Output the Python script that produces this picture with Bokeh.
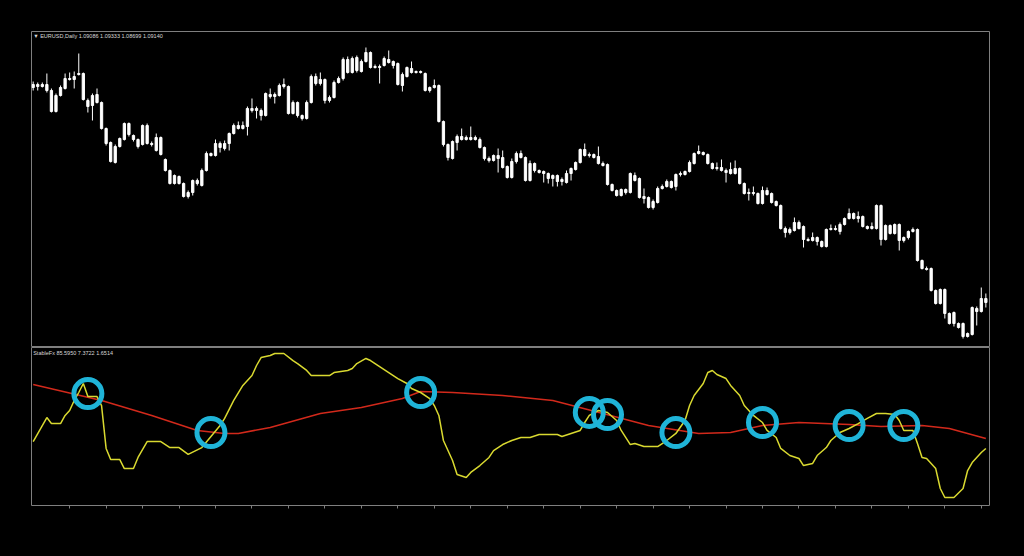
from bokeh.plotting import figure
from bokeh.layouts import column
from bokeh.models import Range1d, LinearAxis, FixedTicker, Label
from bokeh.embed import file_html
from bokeh.resources import INLINE

# ---------------- data ----------------
open_ = [
1.304,1.307,1.305,1.307,1.301,1.280,1.296,1.303,1.312,1.312,
1.317,1.318,1.291,1.286,1.297,1.289,1.263,1.249,1.229,1.245,
1.252,1.268,1.256,1.252,1.247,1.266,1.248,1.241,1.254,1.232,
1.221,1.208,1.215,1.208,1.195,1.199,1.211,1.206,1.221,1.236,
1.236,1.248,1.248,1.248,1.258,1.266,1.263,1.265,1.283,1.281,
1.281,1.276,1.297,1.295,1.296,1.305,1.305,1.278,1.289,1.276,
1.273,1.289,1.315,1.308,1.312,1.291,1.294,1.309,1.313,1.332,
1.319,1.334,1.320,1.330,1.339,1.324,1.325,1.326,1.332,1.330,
1.328,1.306,1.315,1.323,1.320,1.319,1.318,1.301,1.304,1.306,
1.270,1.247,1.233,1.249,1.255,1.252,1.254,1.252,1.252,1.244,
1.233,1.231,1.236,1.234,1.225,1.214,1.230,1.238,1.234,1.211,
1.228,1.221,1.220,1.218,1.213,1.216,1.210,1.209,1.218,1.222,
1.229,1.242,1.236,1.237,1.235,1.228,1.227,1.207,1.201,1.196,
1.202,1.199,1.216,1.213,1.195,1.194,1.184,1.189,1.203,1.205,
1.210,1.205,1.217,1.217,1.220,1.228,1.238,1.239,1.237,1.228,
1.223,1.224,1.221,1.222,1.218,1.223,1.208,1.198,1.199,1.198,
1.188,1.201,1.198,1.190,1.186,1.163,1.159,1.161,1.169,1.165,
1.152,1.151,1.154,1.150,1.145,1.162,1.163,1.160,1.167,1.173,
1.178,1.173,1.175,1.165,1.163,1.163,1.186,1.152,1.166,1.158,
1.167,1.151,1.154,1.160,1.162,1.131,1.123,1.123,1.101,1.088,
1.102,1.078,1.068,1.068,1.068,1.055,1.057,1.083,1.080,1.089]

close = [
1.307,1.305,1.307,1.301,1.280,1.296,1.304,1.313,1.313,1.315,
1.318,1.292,1.285,1.296,1.289,1.263,1.248,1.230,1.245,1.253,
1.268,1.257,1.252,1.245,1.266,1.248,1.247,1.254,1.237,1.221,
1.208,1.216,1.208,1.195,1.199,1.211,1.208,1.221,1.238,1.238,
1.248,1.244,1.243,1.258,1.266,1.263,1.266,1.283,1.281,1.283,
1.276,1.298,1.295,1.297,1.306,1.307,1.278,1.289,1.276,1.273,
1.289,1.315,1.308,1.312,1.291,1.294,1.309,1.313,1.332,1.319,
1.333,1.321,1.330,1.339,1.324,1.325,1.324,1.333,1.329,1.326,
1.307,1.317,1.324,1.319,1.319,1.320,1.301,1.304,1.306,1.270,
1.247,1.234,1.250,1.255,1.252,1.254,1.252,1.254,1.244,1.233,
1.231,1.236,1.233,1.224,1.214,1.230,1.238,1.234,1.211,1.228,
1.221,1.219,1.218,1.213,1.216,1.210,1.212,1.218,1.223,1.229,
1.242,1.236,1.237,1.234,1.228,1.226,1.207,1.201,1.196,1.202,
1.199,1.218,1.211,1.194,1.193,1.184,1.190,1.203,1.205,1.210,
1.204,1.217,1.218,1.220,1.229,1.238,1.240,1.237,1.228,1.223,
1.224,1.221,1.219,1.218,1.223,1.208,1.198,1.199,1.198,1.188,
1.201,1.197,1.189,1.186,1.163,1.159,1.162,1.169,1.163,1.152,
1.151,1.154,1.150,1.145,1.162,1.163,1.162,1.167,1.173,1.178,
1.173,1.175,1.165,1.163,1.165,1.186,1.152,1.166,1.158,1.167,
1.151,1.154,1.160,1.162,1.131,1.123,1.122,1.101,1.088,1.102,
1.078,1.068,1.079,1.064,1.055,1.058,1.084,1.080,1.093,1.093]

high = [
1.310,1.309,1.309,1.318,1.303,1.298,1.306,1.318,1.319,1.320,
1.338,1.319,1.293,1.298,1.303,1.290,1.264,1.250,1.247,1.254,
1.269,1.269,1.257,1.253,1.267,1.268,1.250,1.258,1.255,1.233,
1.222,1.217,1.216,1.209,1.201,1.212,1.213,1.223,1.240,1.239,
1.252,1.250,1.251,1.259,1.268,1.270,1.270,1.285,1.293,1.285,
1.283,1.299,1.303,1.299,1.308,1.313,1.306,1.291,1.290,1.277,
1.291,1.317,1.318,1.319,1.313,1.296,1.311,1.315,1.334,1.335,
1.335,1.336,1.332,1.344,1.340,1.327,1.327,1.335,1.341,1.331,
1.329,1.319,1.325,1.330,1.321,1.321,1.319,1.305,1.312,1.307,
1.271,1.248,1.251,1.257,1.263,1.256,1.265,1.256,1.254,1.245,
1.235,1.237,1.243,1.241,1.226,1.233,1.240,1.241,1.235,1.231,
1.229,1.222,1.221,1.219,1.217,1.217,1.214,1.221,1.224,1.230,
1.243,1.248,1.239,1.238,1.245,1.230,1.228,1.208,1.202,1.203,
1.203,1.219,1.219,1.214,1.203,1.195,1.192,1.205,1.207,1.212,
1.211,1.218,1.220,1.221,1.231,1.239,1.246,1.240,1.238,1.229,
1.229,1.232,1.223,1.229,1.231,1.224,1.209,1.203,1.205,1.199,
1.205,1.204,1.199,1.191,1.187,1.165,1.164,1.174,1.171,1.166,
1.154,1.159,1.155,1.151,1.163,1.167,1.166,1.169,1.174,1.183,
1.179,1.180,1.176,1.166,1.169,1.187,1.187,1.167,1.167,1.168,
1.168,1.155,1.161,1.164,1.163,1.132,1.125,1.124,1.102,1.103,
1.103,1.079,1.080,1.069,1.069,1.059,1.085,1.085,1.104,1.098]

low = [
1.301,1.301,1.304,1.299,1.279,1.279,1.295,1.302,1.311,1.303,
1.316,1.291,1.279,1.271,1.288,1.262,1.246,1.229,1.228,1.244,
1.251,1.255,1.250,1.243,1.246,1.247,1.245,1.240,1.236,1.220,
1.207,1.207,1.207,1.194,1.193,1.196,1.206,1.205,1.220,1.235,
1.235,1.239,1.241,1.241,1.257,1.262,1.262,1.256,1.279,1.273,
1.271,1.275,1.293,1.288,1.295,1.303,1.277,1.277,1.274,1.271,
1.272,1.288,1.306,1.306,1.288,1.289,1.293,1.308,1.311,1.318,
1.318,1.319,1.319,1.329,1.323,1.323,1.308,1.325,1.328,1.323,
1.306,1.300,1.314,1.318,1.318,1.318,1.300,1.299,1.303,1.269,
1.245,1.231,1.232,1.241,1.251,1.251,1.251,1.251,1.243,1.231,
1.229,1.230,1.219,1.223,1.213,1.213,1.228,1.233,1.210,1.210,
1.219,1.218,1.209,1.208,1.205,1.205,1.206,1.208,1.211,1.221,
1.228,1.235,1.234,1.233,1.227,1.225,1.206,1.200,1.195,1.195,
1.197,1.198,1.210,1.193,1.188,1.183,1.182,1.188,1.202,1.204,
1.203,1.201,1.215,1.216,1.219,1.227,1.237,1.236,1.227,1.222,
1.221,1.220,1.209,1.217,1.217,1.207,1.197,1.191,1.196,1.187,
1.187,1.196,1.188,1.185,1.162,1.154,1.157,1.160,1.162,1.144,
1.150,1.150,1.146,1.144,1.144,1.161,1.161,1.157,1.166,1.172,
1.172,1.169,1.164,1.162,1.162,1.162,1.146,1.151,1.157,1.157,
1.141,1.149,1.152,1.159,1.130,1.122,1.121,1.100,1.087,1.087,
1.073,1.067,1.065,1.063,1.053,1.054,1.056,1.066,1.079,1.084]

# StableFx oscillator (yellow) – bar index and value
yellow_idx = [0,3,4,6,7,8,9,10,11,12,14,15,16,17,19,20,22,23,25,28,30,32,34,37,39,41,42,44,
              46,48,49,50,52,53,55,57,58,60,61,65,66,69,70,71,73,74,76,78,80,82,83,85,87,88,89,
              90,92,93,95,96,98,100,101,103,105,107,109,111,115,116,118,120,121,122,124,126,128,
              129,131,132,134,137,139,141,143,144,145,147,148,149,150,152,153,155,156,158,160,
              161,163,164,166,168,169,171,172,174,175,177,179,181,183,185,187,189,190,191,193,
              194,195,196,198,199,200,202,204,205,206,208,209]
yellow_val = [39.3,55.3,51.3,51.3,56.7,60.0,66.7,72.0,78.0,69.3,69.3,63.3,34.7,27.3,27.3,21.3,21.3,
              28.7,39.3,39.3,35.3,35.3,30.7,35.3,42.7,50.0,54.7,66.7,
              76.7,83.3,90.0,95.3,96.7,98.0,98.0,93.3,91.3,86.7,83.3,83.3,85.3,86.7,88.0,91.3,94.7,
              93.3,89.3,85.3,81.3,78.0,74.7,72.0,68.0,63.3,56.7,
              40.0,26.7,17.3,15.3,18.7,23.3,28.7,33.3,37.3,40.0,42.0,42.0,44.0,44.0,42.7,44.7,46.7,
              52.0,56.7,60.0,58.7,53.3,
              46.7,37.3,38.0,36.0,36.0,40.0,44.7,53.3,63.3,70.0,78.0,85.3,86.7,84.0,81.3,76.7,70.0,
              63.3,56.7,52.0,
              46.7,42.0,34.7,30.0,28.0,23.3,24.7,30.0,35.3,40.0,45.3,48.0,51.3,54.7,58.0,58.0,57.3,
              53.3,46.7,46.7,
              38.0,28.7,28.0,21.3,8.0,2.0,2.0,8.0,20.0,25.3,32.0,34.7]

# signal line (red)
red_idx = [0,15,26,36,42,45,52,63,72,81,85,92,103,114,125,135,146,153,160,168,179,186,195,201,209]
red_val = [77.3,66.7,56.7,46.7,44.7,44.7,48.7,58.0,62.0,68.0,72.7,72.0,70.0,66.7,58.0,50.0,44.7,
           45.3,50.0,52.0,50.7,49.3,50.0,48.0,41.3]

# crossing markers
cross_idx = [12,39,85,122,126,141,160,179,191]
cross_val = [71.3,45.3,72.0,58.7,57.3,45.3,52.0,50.0,50.0]

header_main = "\u25BC EURUSD,Daily  1.09086 1.09333 1.08699 1.09140"
header_ind = "StableFx 85.5950 7.3722 1.6514"
tick_bars = list(range(8, 210, 8))

# ---------------- figures ----------------
idx = list(range(len(close)))
xr = Range1d(-0.37, 209.8)
BORDER = "#7f7f7f"

p1 = figure(width=1008, height=339, x_range=xr, y_range=Range1d(1.044, 1.360),
            output_backend="svg", toolbar_location=None,
            x_axis_location=None, y_axis_location=None,
            min_border_left=23, min_border_right=27, min_border_top=23, min_border_bottom=0,
            background_fill_color="black", border_fill_color="black",
            outline_line_color=BORDER, outline_line_width=1)
p1.grid.visible = False

p1.segment(x0=idx, y0=high, x1=idx, y1=low, line_color="white", line_width=1)
p1.vbar(x=idx, width=0.5, top=open_, bottom=close,
        fill_color="white", line_color="white", line_width=1)

p1.add_layout(Label(x=0, y=1.3585, text=header_main, text_baseline="top",
                    text_color="#d8d8d8", text_font_size="5.5px",
                    text_font="Liberation Sans"))

p2 = figure(width=1008, height=193, x_range=xr, y_range=Range1d(-3.33, 102.0),
            output_backend="svg", toolbar_location=None,
            x_axis_location=None, y_axis_location=None,
            min_border_left=23, min_border_right=27, min_border_top=0, min_border_bottom=35,
            background_fill_color="black", border_fill_color="black",
            outline_line_color=BORDER, outline_line_width=1)
p2.grid.visible = False

ax = LinearAxis(ticker=FixedTicker(ticks=tick_bars))
ax.axis_line_color = None
ax.major_tick_line_color = BORDER
ax.major_tick_in = 0
ax.major_tick_out = 3
ax.minor_tick_line_color = None
ax.major_label_text_color = None
p2.add_layout(ax, "below")

p2.line(red_idx, red_val, line_color="#d2291b", line_width=1.5)
p2.line(yellow_idx, yellow_val, line_color="#d9d930", line_width=1.5)
p2.scatter(x=cross_idx, y=cross_val, marker="circle", size=28,
           fill_color=None, line_color="#1fb4d8", line_width=5)

p2.add_layout(Label(x=0, y=100.5, text=header_ind, text_baseline="top",
                    text_color="#d8d8d8", text_font_size="5.5px",
                    text_font="Liberation Sans"))

layout = column(p1, p2, spacing=0)

html = file_html(layout, INLINE)
html = html.replace("</head>",
                    "<style>html,body{background:#000000;} body{margin:8px !important;}</style></head>", 1)
open("out.html", "w").write(html)
